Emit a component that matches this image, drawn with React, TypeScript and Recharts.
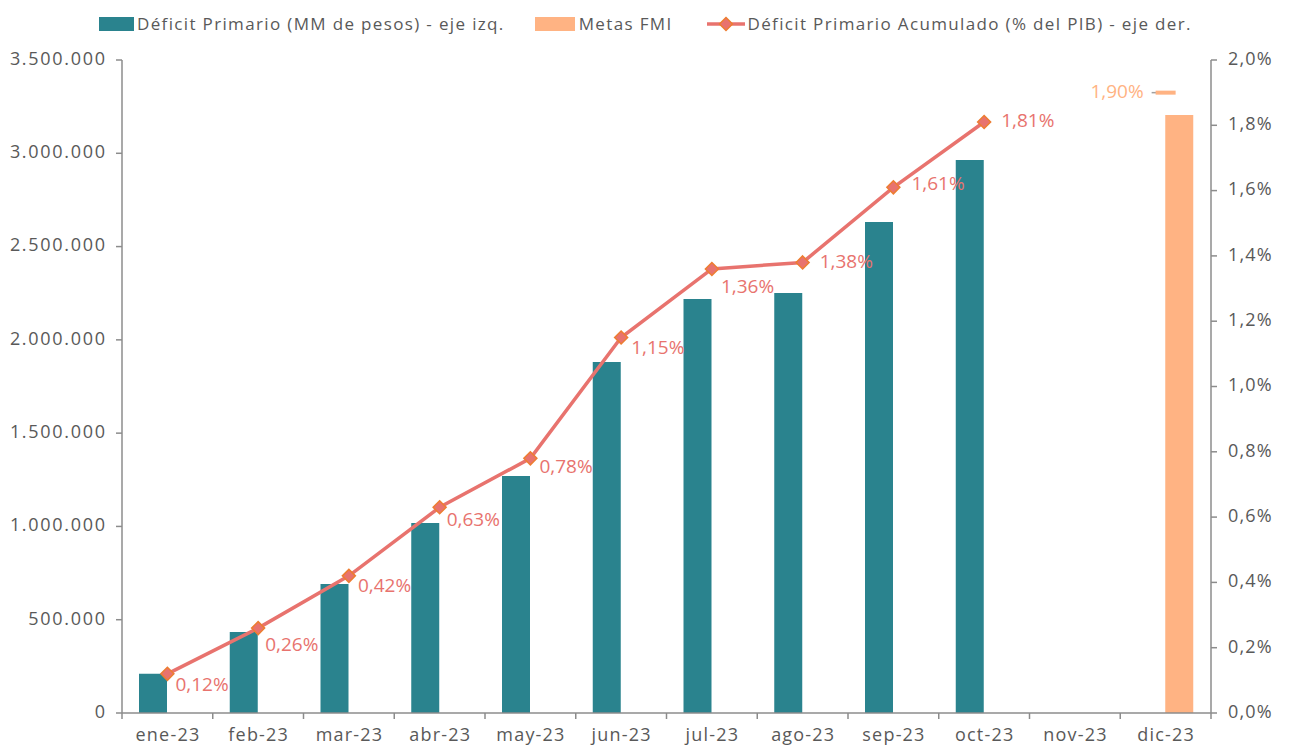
import React from 'react';
import { ComposedChart, Bar, Line, XAxis, YAxis, LabelList } from 'recharts';

const categories = ['ene-23', 'feb-23', 'mar-23', 'abr-23', 'may-23', 'jun-23', 'jul-23', 'ago-23', 'sep-23', 'oct-23', 'nov-23', 'dic-23'];
const deficitMM = [210000, 434000, 691000, 1018000, 1270000, 1881000, 2219000, 2251000, 2632000, 2964000, null, null];
const metasFMI = [null, null, null, null, null, null, null, null, null, null, null, 3205000];
const deficitPct = [0.12, 0.26, 0.42, 0.63, 0.78, 1.15, 1.36, 1.38, 1.61, 1.81, null, null];
const metaPct = [null, null, null, null, null, null, null, null, null, null, null, 1.9];
const leftTicks = [0, 500000, 1000000, 1500000, 2000000, 2500000, 3000000, 3500000];
const rightTicks = [0, 0.2, 0.4, 0.6, 0.8, 1.0, 1.2, 1.4, 1.6, 1.8, 2.0];

// label nudges (style only)
const labelDx = [8, 7, 9, 7, 9, 10, 9, 17, 18, 17];
const labelDy = [12, 18, 11, 14, 10, 11, 19, 0, -2, 0];

const data = categories.map((c, i) => ({
  cat: c,
  deficit: deficitMM[i],
  metas: metasFMI[i],
  pct: deficitPct[i],
  meta: metaPct[i],
}));

const W = 1289;
const H = 745;
const LEFT_W = 122;
const RIGHT_W = 78;
const PLOT_W = W - LEFT_W - RIGHT_W;
const BAND = PLOT_W / categories.length;

const TEAL = '#2A838E';
const PEACH = '#FFB383';
const LINE = '#E8736E';
const MARK = '#ED7D31';
const TXT = '#595959';
const AXIS = '#8c8c8c';
const FONT = '"Open Sans", sans-serif';

const fmtLeft = (v: number) => String(Math.round(v)).replace(/\B(?=(\d{3})+(?!\d))/g, '.');
const fmtRight = (v: number) => v.toFixed(1).replace('.', ',') + '%';
const fmtPct = (v: number) => v.toFixed(2).replace('.', ',') + '%';

const XTick = (props: any) => {
  const { x, y, payload, index } = props;
  const last = index === categories.length - 1;
  return (
    <g>
      <line x1={x - BAND / 2} x2={x - BAND / 2} y1={y} y2={y + 6} stroke={AXIS} strokeWidth={1.5} />
      {last && <line x1={x + BAND / 2} x2={x + BAND / 2} y1={y} y2={y + 6} stroke={AXIS} strokeWidth={1.5} />}
      <text
        x={x + 0.6}
        y={y + 23}
        textAnchor="middle"
        dominantBaseline="middle"
        fill={TXT}
        fontSize={18}
        fontFamily={FONT}
        style={{ letterSpacing: '1.2px' }}
      >
        {payload.value}
      </text>
    </g>
  );
};

const LeftTick = (props: any) => {
  const { x, y, payload } = props;
  return (
    <text
      x={x + 1.7}
      y={y}
      textAnchor="end"
      dominantBaseline="middle"
      fill={TXT}
      fontSize={18}
      fontFamily={FONT}
      style={{ letterSpacing: '1.7px' }}
    >
      {fmtLeft(payload.value)}
    </text>
  );
};

const RightTick = (props: any) => {
  const { x, y, payload } = props;
  return (
    <text
      x={x}
      y={y}
      textAnchor="start"
      dominantBaseline="middle"
      fill={TXT}
      fontSize={18}
      fontFamily={FONT}
      style={{ letterSpacing: '1.2px' }}
    >
      {fmtRight(payload.value)}
    </text>
  );
};

const Diamond = (props: any) => {
  const { cx, cy, value } = props;
  if (value == null || cx == null || cy == null) return null;
  const r = 6.5;
  return (
    <path
      d={`M${cx},${cy - r} L${cx + r},${cy} L${cx},${cy + r} L${cx - r},${cy} Z`}
      fill={LINE}
      stroke={MARK}
      strokeWidth={1.5}
    />
  );
};

const MetaDot = (props: any) => {
  const { cx, cy, value } = props;
  if (value == null || cx == null || cy == null) return null;
  return (
    <g>
      <line x1={cx - 14} x2={cx + 1} y1={cy} y2={cy} stroke="#a0a0a0" strokeWidth={1.5} />
      <rect x={cx - 10} y={cy - 2} width={20} height={4} fill={PEACH} />
      <text
        x={cx - 22}
        y={cy}
        textAnchor="end"
        dominantBaseline="middle"
        fill={PEACH}
        fontSize={19}
        fontWeight={500}
        fontFamily={FONT}
      >
        {fmtPct(value)}
      </text>
    </g>
  );
};

const PctLabel = (props: any) => {
  const { x, y, value, index } = props;
  if (value == null) return null;
  return (
    <text
      x={x + labelDx[index]}
      y={y + labelDy[index]}
      textAnchor="start"
      dominantBaseline="middle"
      fill={LINE}
      fontSize={19}
      fontWeight={500}
      fontFamily={FONT}
    >
      {fmtPct(value)}
    </text>
  );
};

const LegendBar = () => (
  <div
    style={{
      position: 'absolute',
      top: 12,
      left: 99,
      display: 'flex',
      alignItems: 'center',
      fontFamily: FONT,
      fontSize: 17,
      letterSpacing: '1.35px',
      color: TXT,
      whiteSpace: 'nowrap',
    }}
  >
    <span style={{ display: 'inline-block', width: 35, height: 14, background: TEAL, marginRight: 3 }} />
    <span style={{ marginRight: 30 }}>Déficit Primario (MM de pesos) - eje izq.</span>
    <span style={{ display: 'inline-block', width: 40, height: 14, background: PEACH, marginRight: 4 }} />
    <span style={{ marginRight: 34 }}>Metas FMI</span>
    <svg width={38} height={16} style={{ marginRight: 3 }}>
      <line x1={0} x2={38} y1={8} y2={8} stroke={LINE} strokeWidth={3.5} />
      <path d="M19,1.5 L25.5,8 L19,14.5 L12.5,8 Z" fill={LINE} stroke={MARK} strokeWidth={1.5} />
    </svg>
    <span>Déficit Primario Acumulado (% del PIB) - eje der.</span>
  </div>
);

export default function App() {
  return (
    <div style={{ position: 'absolute', left: 0, top: 0, width: W, height: H, background: '#fff' }}>
      <LegendBar />
      <ComposedChart
        width={W}
        height={H}
        data={data}
        margin={{ top: 60, right: 0, bottom: 0, left: 0 }}
        barGap={0}
        barSize={28}
      >
        <XAxis
          dataKey="cat"
          height={32}
          tickLine={false}
          tickSize={0}
          tickMargin={0}
          axisLine={{ stroke: AXIS, strokeWidth: 1.5 }}
          tick={<XTick />}
          interval={0}
        />
        <YAxis
          yAxisId="left"
          width={LEFT_W}
          domain={[0, 3500000]}
          ticks={leftTicks}
          tickSize={6}
          tickMargin={11}
          axisLine={{ stroke: AXIS, strokeWidth: 1.5 }}
          tickLine={{ stroke: AXIS, strokeWidth: 1.5 }}
          tick={<LeftTick />}
          interval={0}
        />
        <YAxis
          yAxisId="right"
          orientation="right"
          width={RIGHT_W}
          domain={[0, 2]}
          ticks={rightTicks}
          tickSize={6}
          tickMargin={11}
          axisLine={{ stroke: AXIS, strokeWidth: 1.5 }}
          tickLine={{ stroke: AXIS, strokeWidth: 1.5 }}
          tick={<RightTick />}
          interval={0}
        />
        <Bar yAxisId="left" dataKey="deficit" fill={TEAL} isAnimationActive={false} />
        <Bar yAxisId="left" dataKey="metas" fill={PEACH} isAnimationActive={false} />
        <Line
          yAxisId="right"
          dataKey="pct"
          stroke={LINE}
          strokeWidth={3.5}
          dot={<Diamond />}
          activeDot={false}
          isAnimationActive={false}
        >
          <LabelList dataKey="pct" content={<PctLabel />} />
        </Line>
        <Line
          yAxisId="right"
          dataKey="meta"
          stroke="none"
          dot={<MetaDot />}
          activeDot={false}
          isAnimationActive={false}
        />
      </ComposedChart>
    </div>
  );
}
